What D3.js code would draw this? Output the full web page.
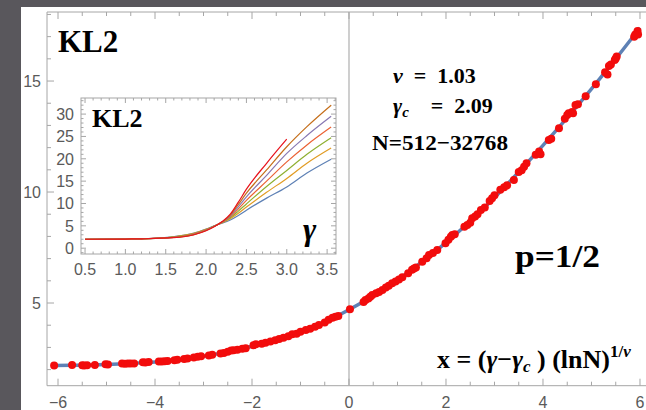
<!DOCTYPE html>
<html lang="en">
<head>
    <meta charset="UTF-8">
    <title>KL2 scaling collapse</title>
    <script src="https://d3js.org/d3.v7.min.js"></script>
    <style>
        body {
            margin: 0;
            background: #59575c;
        }
        svg {
            display: block;
        }
        .tick-label {
            font-family: "Liberation Sans", Arial, sans-serif;
            font-size: 16px;
            fill: #5a5a5a;
        }
        .serif {
            font-family: "Liberation Serif", "Times New Roman", serif;
            font-weight: bold;
            fill: #000;
        }
    </style>
</head>
<body>
<svg id="viz" width="646" height="410"></svg>
<script>
    // collapsed data, x = (gamma - gamma_c) (lnN)^(1/nu)
    var fitX = [-6.05, -5.5, -5, -4.5, -4, -3.5, -3, -2.5, -2, -1.5, -1, -0.5, 0,
        0.5, 1, 1.5, 2, 2.5, 3, 3.5, 4, 4.5, 5, 5.5, 6];
    var fitY = [2.18, 2.2, 2.23, 2.28, 2.34, 2.44, 2.6, 2.8, 3.05, 3.35, 3.7, 4.15, 4.7,
        5.33, 6.03, 6.85, 7.72, 8.68, 9.75, 10.9, 12.1, 13.35, 14.65, 16.0, 17.4];

    var points = [
        [-6.08, 2.18], [-5.71, 2.21], [-5.5, 2.2], [-5.46, 2.19], [-5.4, 2.2], [-5.24, 2.21],
        [-5.02, 2.24], [-4.97, 2.23], [-4.68, 2.27], [-4.62, 2.26], [-4.56, 2.27], [-4.5, 2.28],
        [-4.43, 2.27], [-4.25, 2.33], [-4.2, 2.32], [-4.13, 2.34], [-3.92, 2.37], [-3.86, 2.36],
        [-3.8, 2.38], [-3.74, 2.39], [-3.6, 2.42], [-3.54, 2.44], [-3.4, 2.48], [-3.33, 2.5],
        [-3.2, 2.55], [-3.12, 2.58], [-3.05, 2.6], [-2.89, 2.64], [-2.82, 2.67], [-2.65, 2.73],
        [-2.58, 2.75], [-2.5, 2.8], [-2.43, 2.86], [-2.38, 2.87], [-2.3, 2.9], [-2.2, 2.94],
        [-2.13, 2.96], [-1.97, 3.1], [-1.92, 3.14], [-1.8, 3.17], [-1.72, 3.21], [-1.62, 3.27],
        [-1.52, 3.32], [-1.44, 3.38], [-1.35, 3.44], [-1.25, 3.5], [-1.17, 3.59], [-1.08, 3.62],
        [-1.0, 3.7], [-0.89, 3.78], [-0.8, 3.84], [-0.7, 3.93], [-0.62, 4.01], [-0.5, 4.12],
        [-0.42, 4.25], [-0.34, 4.34], [-0.28, 4.38], [-0.22, 4.42], [0.02, 4.72],
        [0.3, 5.05], [0.34, 5.14], [0.4, 5.2], [0.44, 5.28], [0.48, 5.36], [0.56, 5.44],
        [0.62, 5.5], [0.69, 5.59], [0.76, 5.7], [0.82, 5.78], [0.89, 5.89], [0.96, 5.97],
        [1.03, 6.06], [1.1, 6.16], [1.22, 6.34], [1.3, 6.5], [1.34, 6.56], [1.38, 6.6],
        [1.51, 6.86], [1.6, 7.02], [1.65, 7.16], [1.73, 7.25], [1.82, 7.39], [1.99, 7.69],
        [2.05, 7.85], [2.1, 7.98], [2.13, 8.06], [2.18, 8.1], [2.38, 8.44], [2.44, 8.51],
        [2.5, 8.62], [2.54, 8.82], [2.6, 8.9], [2.65, 9.0], [2.72, 9.19], [2.8, 9.3],
        [2.9, 9.6], [2.95, 9.72], [3.0, 9.85], [3.12, 10.1], [3.2, 10.21], [3.26, 10.3],
        [3.4, 10.54], [3.5, 10.9], [3.56, 10.98], [3.61, 11.14], [3.66, 11.3], [3.85, 11.68],
        [3.92, 11.82], [3.95, 11.7], [4.12, 12.34], [4.17, 12.4], [4.33, 12.87], [4.45, 13.3],
        [4.5, 13.47], [4.53, 13.55], [4.6, 13.6], [4.62, 13.55], [4.67, 13.92], [4.72, 13.95],
        [4.88, 14.32], [5.09, 14.86], [5.28, 15.4], [5.33, 15.3], [5.36, 15.68], [5.4, 15.75],
        [5.5, 16.02], [5.52, 16.1], [5.48, 15.95], [5.88, 17.0], [5.92, 17.12], [5.95, 17.25],
        [5.96, 17.1], [5.9, 17.08]
    ];

    var xTicks = [-6, -4, -2, 0, 2, 4, 6];
    var yTicks = [5, 10, 15];

    // inset: raw KL2 vs gamma, one curve per N (512 ... 32768)
    var insetGamma = [0.5, 1.0, 1.2, 1.6, 1.85, 2.0, 2.1, 2.2, 2.3, 2.4, 2.5, 2.75, 3.0, 3.25, 3.55];
    var insetSeries = [
        [2.0, 2.05, 2.1, 2.6, 3.4, 4.3, 5.0, 5.6, 6.3, 7.3, 8.5, 11.2, 13.7, 16.8, 19.9],
        [2.0, 2.05, 2.1, 2.55, 3.3, 4.2, 4.95, 5.7, 6.6, 7.8, 9.2, 12.5, 15.6, 19.0, 22.4],
        [2.0, 2.05, 2.1, 2.5, 3.25, 4.15, 4.95, 5.75, 6.8, 8.3, 9.9, 13.8, 17.4, 21.0, 24.7],
        [2.0, 2.05, 2.1, 2.45, 3.2, 4.1, 4.9, 5.8, 7.0, 8.8, 10.7, 15.0, 19.3, 23.1, 27.1],
        [2.0, 2.05, 2.1, 2.42, 3.1, 4.0, 4.9, 5.85, 7.2, 9.3, 11.5, 16.3, 21.2, 25.2, 29.5],
        [2.0, 2.05, 2.1, 2.4, 3.05, 3.95, 4.85, 5.9, 7.4, 9.8, 12.3, 17.5, 22.7, 27.2, 32.0],
        [2.0, 2.05, 2.1, 2.35, 3.0, 3.9, 4.8, 5.95, 7.6, 10.3, 13.2, 19.0, 24.4]
    ];
    var insetColors = ["#5e81b5", "#e19c24", "#8fb032", "#eb6235", "#8778b3", "#c56e1a", "#e8131c"];
    var insetXTicks = [0.5, 1.0, 1.5, 2.0, 2.5, 3.0, 3.5];
    var insetYTicks = [0, 5, 10, 15, 20, 25, 30];

    var svg = d3.select("#viz");
    var frameColor = "#a6a6a6";

    // white plot area on the dark page
    svg.append("rect")
        .attr("x", 21).attr("y", 7)
        .attr("width", 625).attr("height", 403)
        .attr("fill", "#fff");

    var pL = 47, pR = 646, pT = 12, pB = 385.7;

    var xScale = d3.scaleLinear().domain([-6.227, 6.124]).range([pL, pR]);
    var yScale = d3.scaleLinear().domain([1.275, 18.11]).range([pB, pT]);

    // frame lines
    svg.append("line").attr("x1", pL).attr("x2", pR).attr("y1", pB).attr("y2", pB)
        .attr("stroke", frameColor);
    svg.append("line").attr("x1", pL).attr("x2", pR).attr("y1", pT).attr("y2", pT)
        .attr("stroke", frameColor);
    svg.append("line").attr("x1", pL).attr("x2", pL).attr("y1", pT).attr("y2", pB)
        .attr("stroke", frameColor);
    // x = 0 line
    svg.append("line").attr("x1", xScale(0)).attr("x2", xScale(0)).attr("y1", pT).attr("y2", pB)
        .attr("stroke", "#b4b4b4").attr("stroke-width", 1.3);

    // ticks
    var xMinor = d3.range(-6, 6.01, 0.5);
    svg.append("g").selectAll("line").data(xMinor).enter().append("line")
        .attr("x1", function (d) { return xScale(d); })
        .attr("x2", function (d) { return xScale(d); })
        .attr("y1", pB)
        .attr("y2", function (d) { return pB - (xTicks.indexOf(d) >= 0 ? 7 : 4); })
        .attr("stroke", frameColor);
    svg.append("g").selectAll("line").data(xMinor).enter().append("line")
        .attr("x1", function (d) { return xScale(d); })
        .attr("x2", function (d) { return xScale(d); })
        .attr("y1", pT)
        .attr("y2", function (d) { return pT + (xTicks.indexOf(d) >= 0 ? 7 : 4); })
        .attr("stroke", frameColor);
    var yMinor = d3.range(2, 18.01, 1);
    svg.append("g").selectAll("line").data(yMinor).enter().append("line")
        .attr("x1", pL)
        .attr("x2", function (d) { return pL + (yTicks.indexOf(d) >= 0 ? 7 : 4); })
        .attr("y1", function (d) { return yScale(d); })
        .attr("y2", function (d) { return yScale(d); })
        .attr("stroke", frameColor);

    svg.append("g").selectAll("text").data(xTicks).enter().append("text")
        .attr("class", "tick-label")
        .attr("x", function (d) { return xScale(d); })
        .attr("y", 408)
        .attr("text-anchor", "middle")
        .text(function (d) { return d < 0 ? "\u2212" + Math.abs(d) : d; });
    svg.append("g").selectAll("text").data(yTicks).enter().append("text")
        .attr("class", "tick-label")
        .attr("x", 41)
        .attr("y", function (d) { return yScale(d) + 6; })
        .attr("text-anchor", "end")
        .text(function (d) { return d; });

    // fitted curve and data points
    var fit = fitX.map(function (x, i) { return [x, fitY[i]]; });
    var line = d3.line()
        .x(function (d) { return xScale(d[0]); })
        .y(function (d) { return yScale(d[1]); })
        .curve(d3.curveCatmullRom);
    svg.append("path")
        .attr("d", line(fit))
        .attr("fill", "none")
        .attr("stroke", "#5e81b5")
        .attr("stroke-width", 3.5);

    svg.append("g").selectAll("circle").data(points).enter().append("circle")
        .attr("cx", function (d) { return xScale(d[0]); })
        .attr("cy", function (d) { return yScale(d[1]); })
        .attr("r", 4)
        .attr("fill", "#f20c0c");

    // annotations
    svg.append("text").attr("class", "serif").attr("x", 58).attr("y", 52)
        .style("font-size", "31px").text("KL2");

    var t1 = svg.append("text").attr("class", "serif").attr("x", 393).attr("y", 83)
        .style("font-size", "22px");
    t1.append("tspan").style("font-style", "italic").text("\u03bd");
    t1.append("tspan").text("\u2002=\u20021.03");

    var t2 = svg.append("text").attr("class", "serif").attr("x", 393).attr("y", 113)
        .style("font-size", "22px");
    t2.append("tspan").style("font-style", "italic").text("\u03b3");
    t2.append("tspan").style("font-style", "italic").style("font-size", "15px").attr("dy", 4).text("c");
    t2.append("tspan").attr("dy", -4).text("\u2003=\u20022.09");

    svg.append("text").attr("class", "serif").attr("x", 372).attr("y", 150)
        .style("font-size", "22px").attr("textLength", 136).attr("lengthAdjust", "spacingAndGlyphs")
        .text("N=512\u221232768");

    svg.append("text").attr("class", "serif").attr("x", 515).attr("y", 267)
        .style("font-size", "31px").attr("textLength", 85).attr("lengthAdjust", "spacingAndGlyphs")
        .text("p=1/2");

    var t3 = svg.append("text").attr("class", "serif").attr("x", 437).attr("y", 368)
        .style("font-size", "26px");
    t3.append("tspan").text("x = (");
    t3.append("tspan").style("font-style", "italic").text("\u03b3");
    t3.append("tspan").text("\u2212");
    t3.append("tspan").style("font-style", "italic").text("\u03b3");
    t3.append("tspan").style("font-style", "italic").style("font-size", "17px").attr("dy", 4).text("c");
    t3.append("tspan").attr("dy", -4).text(" ) (lnN)");
    t3.append("tspan").style("font-size", "17px").attr("dy", -11).text("1/");
    t3.append("tspan").style("font-size", "17px").style("font-style", "italic").text("\u03bd");

    // inset
    var iLeft = 81, iRight = 336, iTop = 98, iBottom = 254;
    var gx = d3.scaleLinear().domain([0.45, 3.61]).range([iLeft, iRight]);
    var gy = d3.scaleLinear().domain([-1.3, 33.6]).range([iBottom, iTop]);
    var inset = svg.append("g");
    inset.append("rect")
        .attr("x", iLeft).attr("y", iTop)
        .attr("width", iRight - iLeft).attr("height", iBottom - iTop)
        .attr("fill", "#fff").attr("stroke", frameColor);

    var gMinor = d3.range(0.5, 3.61, 0.1);
    inset.append("g").selectAll("line").data(gMinor).enter().append("line")
        .attr("x1", function (d) { return gx(d); })
        .attr("x2", function (d) { return gx(d); })
        .attr("y1", iBottom)
        .attr("y2", function (d, i) { return iBottom - (i % 5 === 0 ? 5 : 2.5); })
        .attr("stroke", frameColor);
    inset.append("g").selectAll("line").data(gMinor).enter().append("line")
        .attr("x1", function (d) { return gx(d); })
        .attr("x2", function (d) { return gx(d); })
        .attr("y1", iTop)
        .attr("y2", function (d, i) { return iTop + (i % 5 === 0 ? 5 : 2.5); })
        .attr("stroke", frameColor);
    var vMinor = d3.range(-1, 33.1, 1);
    inset.append("g").selectAll("line").data(vMinor).enter().append("line")
        .attr("x1", iLeft)
        .attr("x2", function (d) { return iLeft + (d % 5 === 0 ? 5 : 2.5); })
        .attr("y1", function (d) { return gy(d); })
        .attr("y2", function (d) { return gy(d); })
        .attr("stroke", frameColor);
    inset.append("g").selectAll("line").data(vMinor).enter().append("line")
        .attr("x1", iRight)
        .attr("x2", function (d) { return iRight - (d % 5 === 0 ? 5 : 2.5); })
        .attr("y1", function (d) { return gy(d); })
        .attr("y2", function (d) { return gy(d); })
        .attr("stroke", frameColor);

    inset.append("g").selectAll("text").data(insetXTicks).enter().append("text")
        .attr("class", "tick-label")
        .attr("x", function (d) { return gx(d); })
        .attr("y", 275)
        .attr("text-anchor", "middle")
        .text(function (d) { return d.toFixed(1); });
    inset.append("g").selectAll("text").data(insetYTicks).enter().append("text")
        .attr("class", "tick-label")
        .attr("x", 74)
        .attr("y", function (d) { return gy(d) + 6; })
        .attr("text-anchor", "end")
        .text(function (d) { return d; });

    var gLine = d3.line()
        .x(function (d) { return gx(d[0]); })
        .y(function (d) { return gy(d[1]); })
        .curve(d3.curveMonotoneX);
    insetSeries.forEach(function (s, k) {
        var pts = s.map(function (v, i) { return [insetGamma[i], v]; });
        inset.append("path")
            .attr("d", gLine(pts))
            .attr("fill", "none")
            .attr("stroke", insetColors[k])
            .attr("stroke-width", 1.2);
    });

    inset.append("text").attr("class", "serif").attr("x", 92).attr("y", 127)
        .style("font-size", "26px").text("KL2");
    inset.append("text").attr("class", "serif").attr("x", 303).attr("y", 240)
        .style("font-size", "32px").style("font-style", "italic").text("\u03b3");
</script>
</body>
</html>
